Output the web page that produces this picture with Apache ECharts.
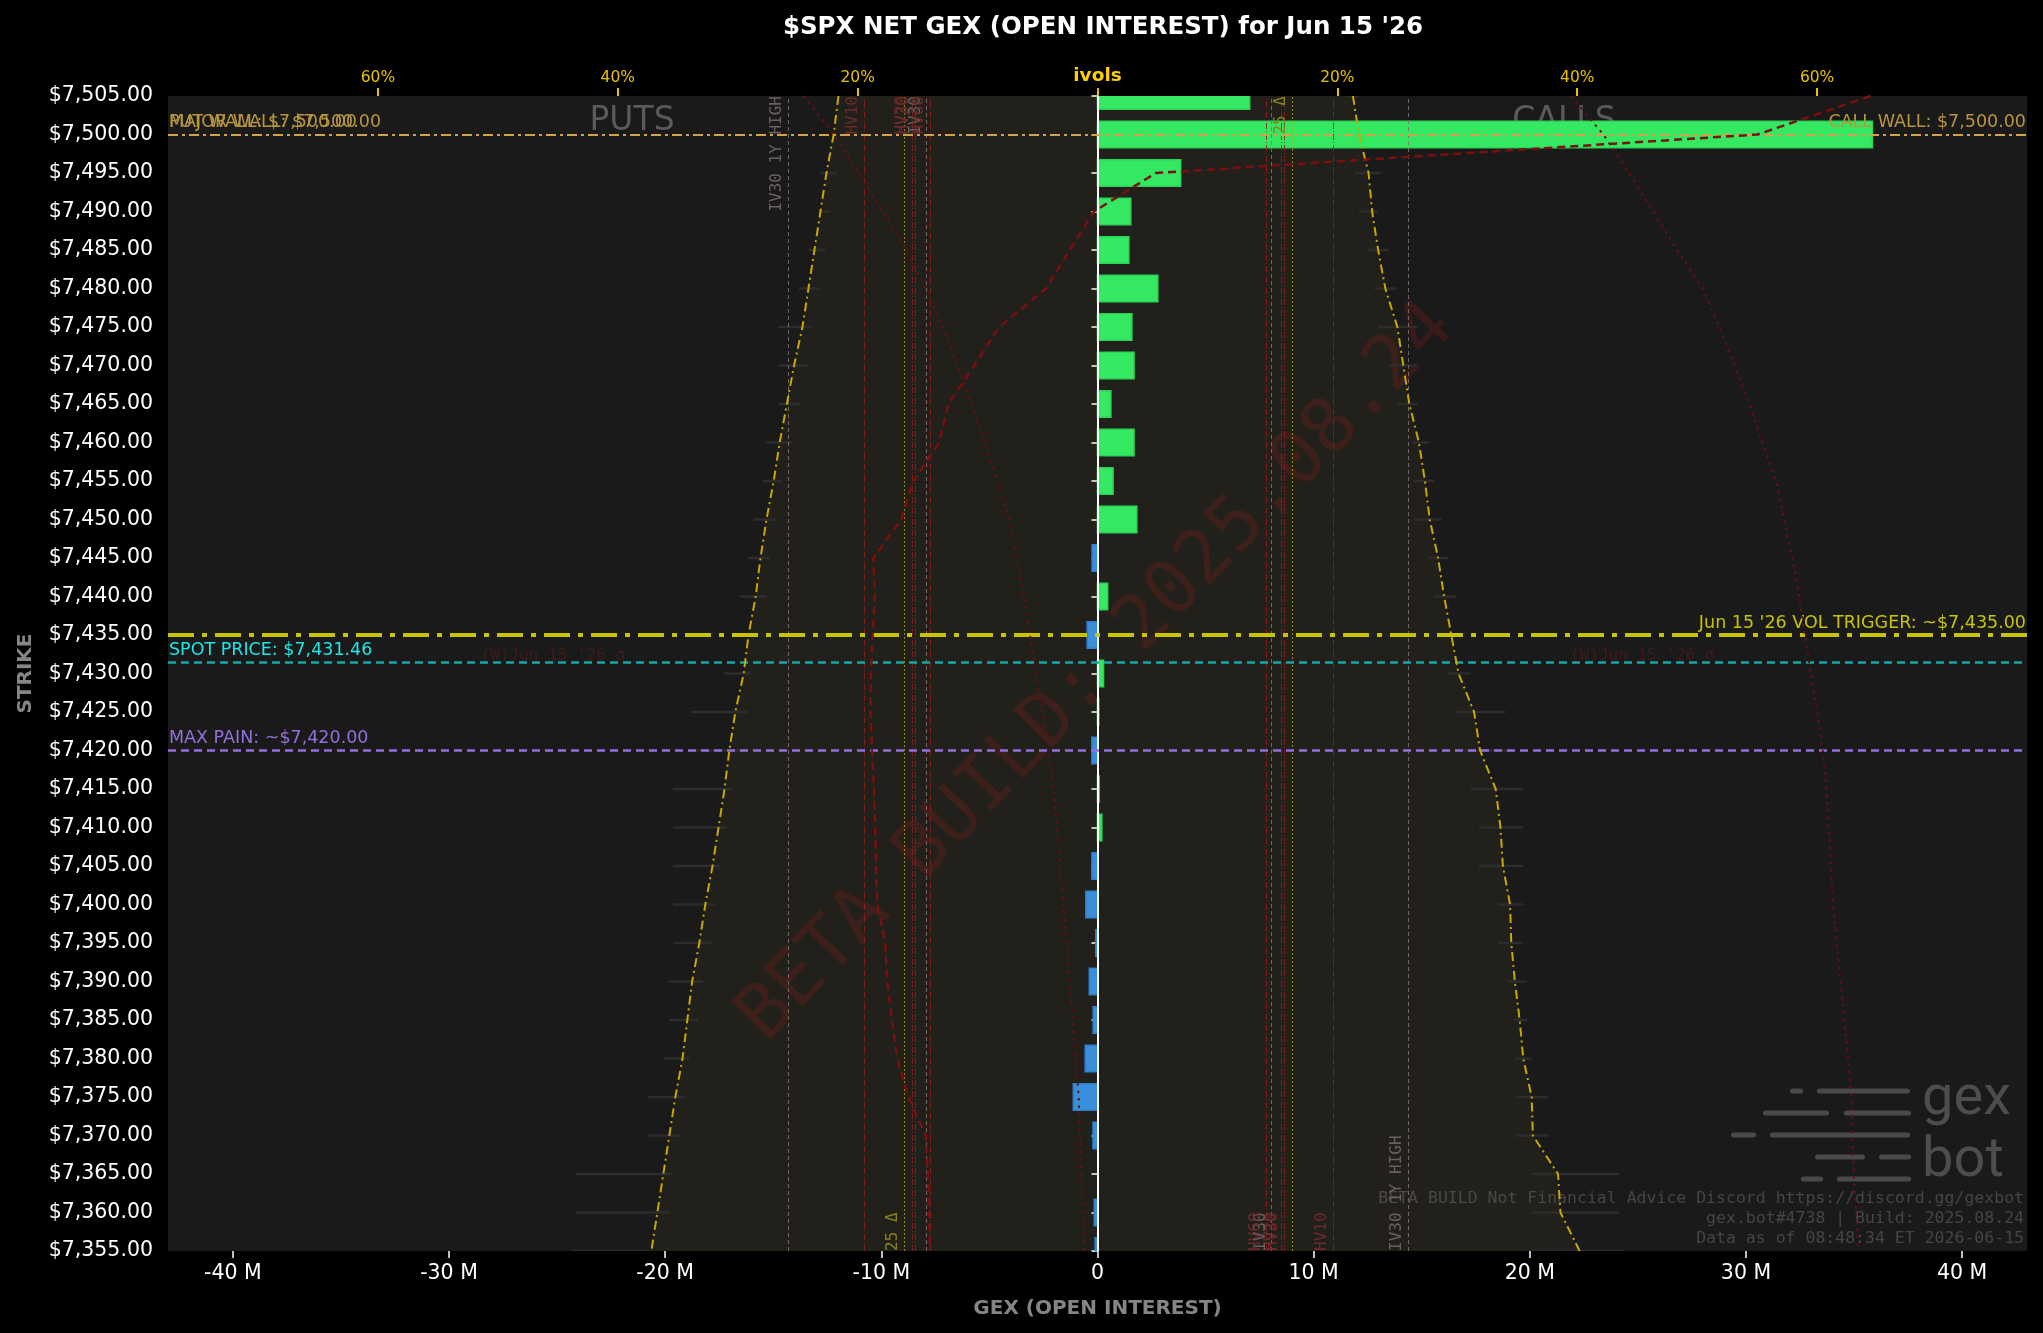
<!DOCTYPE html>
<html>
<head>
<meta charset="utf-8">
<script src="https://cdn.jsdelivr.net/npm/echarts@6/dist/echarts.min.js"></script>
<style>
  html, body { margin: 0; padding: 0; background: #000; }
  #chart { width: 2043px; height: 1333px; }
</style>
</head>
<body>
<div id="chart"></div>
<script>
// ---- data ----
const expiryLabel = "Jun 15 '26";
const strikes = [7505, 7500, 7495, 7490, 7485, 7480, 7475, 7470, 7465, 7460, 7455, 7450, 7445, 7440, 7435,
  7430, 7425, 7420, 7415, 7410, 7405, 7400, 7395, 7390, 7385, 7380, 7375, 7370, 7365, 7360, 7355];

// net GEX per strike, millions
const netGexM = [7.04, 35.85, 3.85, 1.54, 1.45, 2.79, 1.59, 1.69, 0.62, 1.69, 0.72, 1.82, -0.25, 0.47, -0.48,
  0.28, 0.06, -0.26, 0.08, 0.2, -0.26, -0.54, -0.08, -0.38, -0.2, -0.57, -1.12, -0.21, 0, -0.15, -0.11];

// implied vols, percent (puts drawn on the left side)
const putIvol = [21.6, 22.0, 22.6, 23.1, 23.6, 24.1, 24.6, 25.3, 25.9, 26.5, 27.0, 27.6, 28.1, 28.5, 29.1,
  29.5, 30.2, 30.7, 31.1, 31.6, 32.1, 32.7, 33.2, 33.8, 34.2, 34.6, 35.2, 35.7, 36.2, 36.7, 37.2];
const callIvol = [21.3, 21.8, 22.6, 22.9, 23.4, 24.0, 25.0, 25.5, 26.0, 26.8, 27.3, 27.7, 28.4, 28.9, 29.5,
  30.1, 31.4, 31.9, 33.2, 33.6, 33.8, 34.4, 34.5, 34.8, 35.2, 35.5, 36.2, 36.3, 38.4, 38.6, 40.2];

// bid / ask iv spread markers, percent
const putBidIv = [null, null, 21.7, 22.3, 22.7, 23.2, 23.8, 24.2, 24.8, 25.5, 26.3, 26.7, 27.3, 27.6, 28.3,
  28.9, 29.2, 29.6, 30.5, 30.9, 31.4, 31.9, 32.2, 32.9, 33.3, 34.0, 34.4, 34.7, 35.5, 35.7, 37.1];
const putAskIv = [null, null, 23.1, 23.2, 24.1, 24.9, 26.6, 26.6, 26.6, 27.6, 27.9, 28.7, 29.1, 29.8, 30.4,
  31.1, 33.9, 34.0, 35.4, 35.4, 35.4, 35.4, 35.3, 35.8, 35.7, 36.2, 37.5, 37.5, 43.5, 43.5, 43.8];
const callBidIv = [20.7, null, 21.4, 21.8, 22.5, 23.1, 23.4, 24.3, 25.0, 26.3, 26.3, 26.4, 27.6, 28.1, 28.6,
  29.2, 29.9, 30.6, 31.1, 31.8, 31.8, 33.4, 33.4, 34.2, 34.7, 34.8, 34.9, 34.9, 36.2, 36.2, 36.2];
const callAskIv = [21.8, null, 23.6, 23.4, 24.3, 24.9, 26.7, 26.7, 26.7, 27.6, 28.1, 28.7, 29.2, 29.9, 30.4,
  31.1, 34.0, 34.4, 35.5, 35.5, 35.5, 35.5, 35.4, 35.8, 35.8, 36.2, 37.6, 37.6, 43.5, 43.5, 43.9];

// dark red profile lines, millions
const gexProfileM = [35.76, 30.53, 2.70, -0.16, -1.28, -2.38, -4.55, -5.7, -6.9, -7.32, -8.52, -9.08, -10.37, -10.3, -10.4,
  -10.48, -10.5, -10.43, -10.34, -10.28, -10.25, -10.19, -9.82, -9.72, -9.51, -9.26, -8.75, -7.95, -7.85, -7.8, -7.74];
const sigmaLowM = [-13.6, -12.2, -11.03, -9.93, -8.86, -7.94, -7.15, -6.47, -5.84, -5.22, -4.64, -4.09, -3.74, -3.4, -3.12,
  -2.85, -2.57, -2.29, -2.03, -1.88, -1.73, -1.58, -1.43, -1.29, -1.15, -1.01, -0.87, -0.81, -0.75, -0.68, -0.62];
const sigmaHighM = [21.9, 23.4, 24.6, 25.7, 26.8, 28.0, 28.76, 29.47, 30.16, 30.75, 31.4, 31.77, 32.15, 32.46, 32.72,
  33.0, 33.3, 33.55, 33.72, 33.83, 33.93, 34.03, 34.19, 34.37, 34.55, 34.73, 34.87, 34.93, 34.99, 35.09, 35.2];

// vol reference levels, percent
const volLevelNames = ['IV30 1Y HIGH', 'HV10', 'HV20', 'HV30', 'IV30', 'HV60'];
const putVolLevels = [25.8, 19.45, 15.43, 15.19, 14.27, 13.94];
const callVolLevels = [25.9, 19.64, 15.33, 15.55, 14.5, 14.09];
const putDelta25 = 16.15;
const callDelta25 = 16.22;

// price levels
const callWall = 7500;
const putWall = 7500;
const majorWall = 7500;
const volTrigger = 7435;
const spotPrice = 7431.46;
const maxPain = 7420;
const sigmaLabelStrike = 7432.3;
const sigmaLabelGexM = [-25.2, 25.2];

const gexTicksM = [-40, -30, -20, -10, 0, 10, 20, 30, 40];
const ivolTicks = [-60, -40, -20, 0, 20, 40, 60];

// ---- helpers ----
const SANS = "'DejaVu Sans', sans-serif";
const MONO = "'DejaVu Sans Mono', monospace";
const money = (v) => '$' + v.toLocaleString('en-US', { minimumFractionDigits: 2, maximumFractionDigits: 2 });

const chart = echarts.init(document.getElementById('chart'));

const hLine = (y, color, width, type, text, pos, textColor) => ({
  yAxis: y,
  lineStyle: { color, width, type },
  label: {
    show: !!text, formatter: text || '', position: pos, color: textColor || color,
    fontFamily: SANS, fontSize: 17.5, distance: [1, 3]
  }
});

const vLine = (x, name, pos) => {
  const isHV = name.startsWith('HV');
  const isDelta = name.indexOf('Δ') >= 0;
  const color = isDelta ? 'rgba(190,170,20,0.75)' : isHV ? 'rgba(150,28,28,0.85)' : 'rgba(130,112,112,0.85)';
  const type = isDelta ? [2, 2] : isHV ? [6, 2, 1, 2] : [4, 3];
  return {
    xAxis: x,
    lineStyle: { color, width: 1, type },
    label: {
      show: true, formatter: name, position: pos,
      color: isDelta ? '#8d8216' : isHV ? '#6e2a2a' : '#6a6060',
      fontFamily: MONO, fontSize: 16, distance: [0, 3]
    }
  };
};

const volLines = [];
volLevelNames.forEach((n, i) => {
  volLines.push(vLine(-putVolLevels[i], n, 'insideEndTop'));
  volLines.push(vLine(callVolLevels[i], n, 'insideStartTop'));
});
volLines.push(vLine(-putDelta25, '25 Δ', 'insideStartTop'));
volLines.push(vLine(callDelta25, '25 Δ', 'insideEndTop'));

const spreadRows = [];
strikes.forEach((s, i) => {
  if (putBidIv[i] != null) spreadRows.push([s, -putAskIv[i], -putBidIv[i]]);
  if (callBidIv[i] != null) spreadRows.push([s, callBidIv[i], callAskIv[i]]);
});

const option = {
  backgroundColor: '#000',
  animation: false,
  title: {
    text: "$SPX NET GEX (OPEN INTEREST) for " + expiryLabel,
    left: 1098, top: 10, textAlign: 'center',
    textStyle: { color: '#fff', fontFamily: SANS, fontWeight: 'bold', fontSize: 24.5 }
  },
  grid: {
    left: 168, right: 16, top: 96, bottom: 82,
    show: true, backgroundColor: '#1a1a1a', borderWidth: 0
  },
  xAxis: [
    {
      type: 'value', min: -43e6, max: 43e6,
      name: 'GEX (OPEN INTEREST)', nameLocation: 'middle', nameGap: 48,
      nameTextStyle: { color: '#858585', fontFamily: SANS, fontWeight: 'bold', fontSize: 20 },
      axisLine: { show: false },
      splitLine: { show: false },
      axisTick: { show: true, length: 7, customValues: gexTicksM.map(v => v * 1e6), lineStyle: { color: '#fff', width: 1.5 } },
      axisLabel: {
        customValues: gexTicksM.map(v => v * 1e6),
        formatter: (v) => v === 0 ? '0' : Math.round(v / 1e6) + ' M',
        color: '#fff', fontFamily: SANS, fontSize: 20.5, margin: 12
      }
    },
    {
      type: 'value', position: 'top', min: -77.5, max: 77.5,
      axisLine: { show: false },
      splitLine: { show: false },
      axisTick: { show: true, length: 8, customValues: ivolTicks, lineStyle: { color: '#e6c200', width: 2 } },
      axisLabel: {
        customValues: ivolTicks,
        formatter: (v) => v === 0 ? '{b|ivols}' : Math.abs(v) + '%',
        color: '#e6c200', fontFamily: SANS, fontSize: 15.5, margin: 10,
        rich: { b: { color: '#ffd000', fontWeight: 'bold', fontFamily: SANS, fontSize: 18.5 } }
      }
    }
  ],
  yAxis: {
    type: 'value', min: 7355, max: 7505, interval: 5,
    name: 'STRIKE', nameLocation: 'middle', nameGap: 132, nameRotate: 90,
    nameTextStyle: { color: '#858585', fontFamily: SANS, fontWeight: 'bold', fontSize: 20 },
    axisLine: { show: false },
    splitLine: { show: false },
    axisTick: { show: true, length: 6, lineStyle: { color: '#fff', width: 1.5 } },
    axisLabel: { formatter: money, color: '#fff', fontFamily: SANS, fontSize: 20.5, margin: 15 }
  },
  graphic: [
    {
      type: 'text', x: 1097.5, y: 673, rotation: 46 * Math.PI / 180, z: 1, silent: true,
      style: { text: 'BETA BUILD: 2025.08.24', fill: 'rgba(140,30,28,0.28)', fontFamily: MONO, fontSize: 75, align: 'center', verticalAlign: 'middle' }
    },
    { type: 'text', x: 632, y: 121, z: 1, silent: true,
      style: { text: 'PUTS', fill: '#5a5a5a', fontFamily: SANS, fontSize: 33, align: 'center', verticalAlign: 'middle' } },
    { type: 'text', x: 1564, y: 121, z: 1, silent: true,
      style: { text: 'CALLS', fill: '#5a5a5a', fontFamily: SANS, fontSize: 33, align: 'center', verticalAlign: 'middle' } },
    { type: 'text', x: 2024, y: 1199, z: 1, silent: true,
      style: { text: 'BETA BUILD Not Financial Advice Discord https://discord.gg/gexbot', fill: '#454545', fontFamily: MONO, fontSize: 16.5, align: 'right', verticalAlign: 'middle' } },
    { type: 'text', x: 2024, y: 1219, z: 1, silent: true,
      style: { text: 'gex.bot#4738 | Build: 2025.08.24', fill: '#454545', fontFamily: MONO, fontSize: 16.5, align: 'right', verticalAlign: 'middle' } },
    { type: 'text', x: 2024, y: 1239, z: 1, silent: true,
      style: { text: 'Data as of 08:48:34 ET 2026-06-15', fill: '#454545', fontFamily: MONO, fontSize: 16.5, align: 'right', verticalAlign: 'middle' } },
    // gexbot logo
    { type: 'text', x: 1922, y: 1100, z: 1, silent: true,
      style: { text: 'gex', fill: '#4d4d4d', fontFamily: 'Roboto', fontSize: 56, align: 'left', verticalAlign: 'middle' } },
    { type: 'text', x: 1922, y: 1162, z: 1, silent: true,
      style: { text: 'bot', fill: '#4d4d4d', fontFamily: 'Roboto', fontSize: 56, align: 'left', verticalAlign: 'middle' } },
    { type: 'group', z: 1, silent: true, children: [
      [1790, 1091, 13], [1817, 1091, 93],
      [1763, 1113, 66], [1844, 1113, 67],
      [1731, 1135, 25], [1770, 1135, 140],
      [1815, 1157, 50], [1879, 1157, 32],
      [1801, 1179, 22], [1837, 1179, 74]
    ].map(([x, y, w]) => ({ type: 'rect', shape: { x, y: y - 2.5, width: w, height: 5, r: 2.5 }, style: { fill: '#4a4a4a' } })) }
  ],
  series: [
    {
      // faint tint between the put and call iv curves
      type: 'custom', xAxisIndex: 1, yAxisIndex: 0, z: 1, silent: true, clip: true,
      data: [[0, 7430]],
      renderItem: (params, api) => {
        const pts = [];
        strikes.forEach((s, i) => pts.push(api.coord([-putIvol[i], s])));
        for (let i = strikes.length - 1; i >= 0; i--) pts.push(api.coord([callIvol[i], strikes[i]]));
        return { type: 'polygon', shape: { points: pts }, style: { fill: 'rgba(215,195,60,0.035)' } };
      }
    },
    {
      // iv spread markers
      type: 'custom', xAxisIndex: 1, yAxisIndex: 0, z: 2, silent: true, clip: true,
      encode: { x: [1, 2], y: 0 },
      data: spreadRows,
      renderItem: (params, api) => {
        const a = api.coord([api.value(1), api.value(0)]);
        const b = api.coord([api.value(2), api.value(0)]);
        return { type: 'line', shape: { x1: a[0], y1: a[1], x2: b[0], y2: b[1] }, style: { stroke: '#2d2d2d', lineWidth: 2.5 } };
      }
    },
    {
      // net gex bars
      type: 'custom', xAxisIndex: 0, yAxisIndex: 0, z: 3, silent: true, clip: true,
      data: strikes.map((s, i) => [netGexM[i] * 1e6, s]),
      renderItem: (params, api) => {
        const v = api.value(0), s = api.value(1);
        if (!v) return null;
        const a = api.coord([0, s]);
        const b = api.coord([v, s]);
        const h = api.size([0, 5])[1] * 0.69;
        const pos = v > 0;
        return {
          type: 'rect',
          shape: { x: Math.min(a[0], b[0]), y: a[1] - h / 2, width: Math.abs(b[0] - a[0]), height: h },
          style: { fill: pos ? '#35e862' : '#3a8fdc', stroke: pos ? '#2bd457' : '#2f80cf', lineWidth: 1.5 }
        };
      }
    },
    {
      type: 'line', name: 'put ivol', xAxisIndex: 1, yAxisIndex: 0, z: 5, silent: true, symbol: 'none',
      data: strikes.map((s, i) => [-putIvol[i], s]),
      lineStyle: { color: '#c9a800', width: 2, type: [9, 4, 2, 4] }
    },
    {
      type: 'line', name: 'call ivol', xAxisIndex: 1, yAxisIndex: 0, z: 5, silent: true, symbol: 'none',
      data: strikes.map((s, i) => [callIvol[i], s]),
      lineStyle: { color: '#c9a800', width: 2, type: [9, 4, 2, 4] }
    },
    {
      type: 'line', name: 'profile', xAxisIndex: 0, yAxisIndex: 0, z: 5, silent: true, symbol: 'none',
      data: strikes.map((s, i) => [gexProfileM[i] * 1e6, s]),
      lineStyle: { color: '#7a1010', width: 2.5, type: [8, 5] }
    },
    {
      type: 'line', name: 'sigma low', xAxisIndex: 0, yAxisIndex: 0, z: 5, silent: true, symbol: 'none',
      data: strikes.map((s, i) => [sigmaLowM[i] * 1e6, s]),
      lineStyle: { color: '#6e0e0e', width: 2, type: [2.5, 5] }
    },
    {
      type: 'line', name: 'sigma high', xAxisIndex: 0, yAxisIndex: 0, z: 5, silent: true, symbol: 'none',
      data: strikes.map((s, i) => [sigmaHighM[i] * 1e6, s]),
      lineStyle: { color: '#6e0e0e', width: 2, type: [2.5, 5] }
    },
    {
      type: 'scatter', xAxisIndex: 0, yAxisIndex: 0, z: 4, silent: true, symbolSize: 0,
      data: sigmaLabelGexM.map(v => [v * 1e6, sigmaLabelStrike]),
      label: { show: true, position: 'inside', formatter: '(W)' + expiryLabel + ' σ', color: '#4a1c1c', fontFamily: MONO, fontSize: 16 }
    },
    {
      // vertical vol reference lines
      type: 'line', xAxisIndex: 1, yAxisIndex: 0, z: 6, silent: true, symbol: 'none',
      data: [], lineStyle: { opacity: 0 },
      markLine: { silent: true, symbol: 'none', animation: false, data: volLines }
    },
    {
      // price level lines
      type: 'line', xAxisIndex: 0, yAxisIndex: 0, z: 7, silent: true, symbol: 'none',
      data: [], lineStyle: { opacity: 0 },
      markLine: {
        silent: true, symbol: 'none', animation: false,
        data: [
          { xAxis: 0, lineStyle: { color: '#ffffff', width: 2, type: 'solid' }, label: { show: false } },
          hLine(callWall, '#d4a24c', 2, [10, 4, 3, 4], 'CALL WALL: ' + money(callWall), 'insideEndTop', '#b8963e'),
          hLine(putWall, '#d4a24c', 2, [10, 4, 3, 4], 'PUT WALL: ' + money(putWall), 'insideStartTop', '#b8963e'),
          hLine(majorWall, '#d4a24c', 2, [10, 4, 3, 4], 'MAJOR WALL: ' + money(majorWall), 'insideStartTop', '#b8963e'),
          hLine(volTrigger, '#c8c400', 4, [26, 8, 5, 8], expiryLabel + ' VOL TRIGGER: ~' + money(volTrigger), 'insideEndTop', '#c8c400'),
          hLine(spotPrice, '#17a6a6', 2.5, [8, 5], 'SPOT PRICE: ' + money(spotPrice), 'insideStartTop', '#1ee6e6'),
          hLine(maxPain, '#9370db', 2.5, [8, 5], 'MAX PAIN: ~' + money(maxPain), 'insideStartTop', '#9370db')
        ]
      }
    }
  ]
};

chart.setOption(option);
</script>
</body>
</html>
